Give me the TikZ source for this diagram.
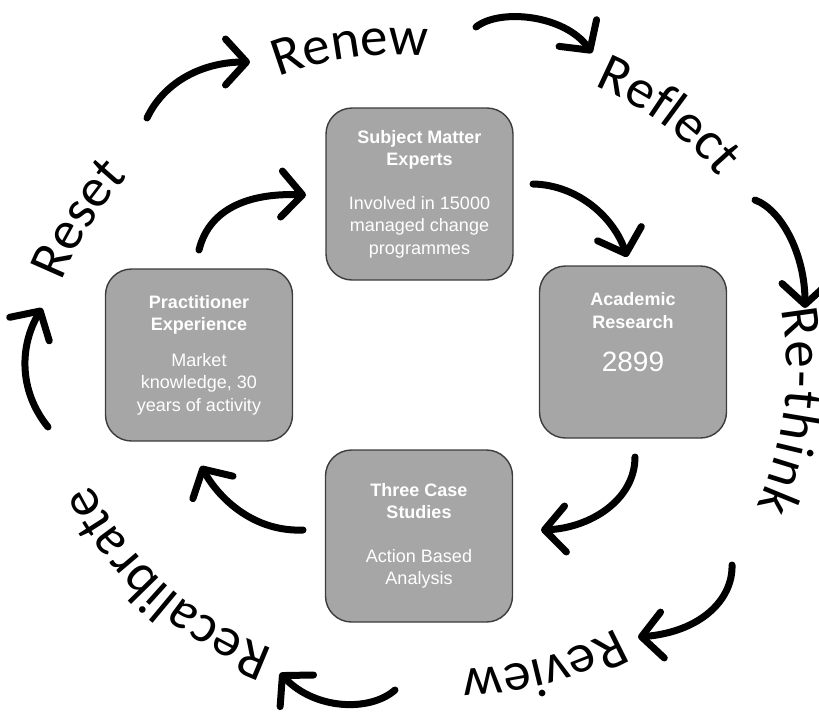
\documentclass[tikz,border=0pt]{standalone}
\usepackage{fontspec}
\setmainfont{Liberation Sans}
\newfontfamily\ringfamily{Carlito}
\usetikzlibrary{arrows.meta,decorations.text,calc}
\definecolor{cardgray}{HTML}{A6A6A6}
\definecolor{cardline}{HTML}{3C3C3C}
\newcommand\ringfont{\ringfamily\fontsize{55}{62}\selectfont}
% #1 baseline midpoint, #2 tangent direction, #3 word, #4 arc radius
\newcommand\ringword[4]{%
  \pgfmathsetmacro\rwphi{#2-90}%
  \pgfmathsetmacro\rwa{\rwphi-40}%
  \pgfmathsetmacro\rwb{\rwphi+40}%
  \path[decorate,decoration={text along path,text align=center,text={|\ringfont|#3}}]
    ($(#1)+(\rwphi+180:#4)+(\rwa:#4)$) arc[start angle=\rwa,end angle=\rwb,radius=#4];
}
% same, but the word is spread over an arc of half-angle #5
\newcommand\ringwordfit[5]{%
  \pgfmathsetmacro\rwphi{#2-90}%
  \pgfmathsetmacro\rwa{\rwphi-#5}%
  \pgfmathsetmacro\rwb{\rwphi+#5}%
  \path[decorate,decoration={text along path,text align=fit to path,text={|\ringfont|#3}}]
    ($(#1)+(\rwphi+180:#4)+(\rwa:#4)$) arc[start angle=\rwa,end angle=\rwb,radius=#4];
}
\begin{document}
\begin{tikzpicture}[x=1pt,y=-1pt,
  card/.style={draw=cardline,line width=1.4pt,fill=cardgray,rounded corners=26pt,
    minimum width=187pt,minimum height=172pt,text=white,align=center,
    font=\fontsize{18}{22.5}\selectfont,inner sep=0pt},
  cardtext/.style={text=white,align=center,font=\fontsize{18}{22.5}\selectfont,inner sep=0pt},
  loop/.style={line width=7pt,line cap=round,-{Straight Barb[length=21pt,width=46pt,round]}},
]
\useasboundingbox (0,0) rectangle (819,713);

% the four sources
\node[card] (sme) at (419.5,194)
  {\textbf{Subject Matter}\\\textbf{Experts}\\[21pt]Involved in 15000\\managed change\\programmes};
\node[card] (acad) at (633,352) {};
\node[cardtext] (acadtext) at (633,332.5)
  {\textbf{Academic}\\\textbf{Research}\\[21pt]{\fontsize{28}{30}\selectfont 2899}};
\node[card] (cases) at (419,536)
  {\textbf{Three Case}\\\textbf{Studies}\\[21pt]Action Based\\Analysis};
\node[card] (prac) at (199,355)
  {\textbf{Practitioner}\\\textbf{Experience}\\[13pt]Market\\knowledge, 30\\years of activity};

% inner cycle
\coordinate (g1) at (199,250);  \coordinate (g2) at (306,195);
\coordinate (h1) at (533,184);  \coordinate (h2) at (627,257);
\coordinate (i1) at (635,457);  \coordinate (i2) at (541,530);
\coordinate (j1) at (303,530);  \coordinate (j2) at (201,466);
\draw[loop] (g1) .. controls (210,205) and (255,193) .. (g2);
\draw[loop] (h1) .. controls (580,185) and (615,220) .. (h2);
\draw[loop] (i1) .. controls (635,500) and (590,528) .. (i2);
\draw[loop] (j1) .. controls (255,532) and (220,500) .. (j2);

% outer cycle
\coordinate (a1) at (147,118);  \coordinate (a2) at (250,62);
\coordinate (b1) at (476,27);   \coordinate (b2) at (592,53);
\coordinate (c1) at (755,200);  \coordinate (c2) at (805,308);
\coordinate (d1) at (732,565);  \coordinate (d2) at (638,637);
\coordinate (e1) at (395,690);  \coordinate (e2) at (280,673);
\coordinate (f1) at (48,427);   \coordinate (f2) at (42,308);
\draw[loop] (a1) .. controls (165,80) and (205,62) .. (a2);
\draw[loop] (b1) .. controls (500,8) and (565,15) .. (b2);
\draw[loop] (c1) .. controls (782,210) and (805,255) .. (c2);
\draw[loop] (d1) .. controls (733,600) and (700,632) .. (d2);
\draw[loop] (e1) .. controls (370,712) and (315,710) .. (e2);
\draw[loop] (f1) .. controls (18,390) and (20,345) .. (f2);

% words around the ring
\ringword{352,58}{-8}{Renew}{330}
\ringword{662,124}{36}{Reflect}{330}
\ringwordfit{784,410}{97}{Re-think}{330}{17.5}
\ringword{542,658}{165}{Review}{330}
\ringword{166,584}{222}{Recalibrate}{330}
\ringword{90,226}{302}{Reset}{330}
\end{tikzpicture}
\end{document}
